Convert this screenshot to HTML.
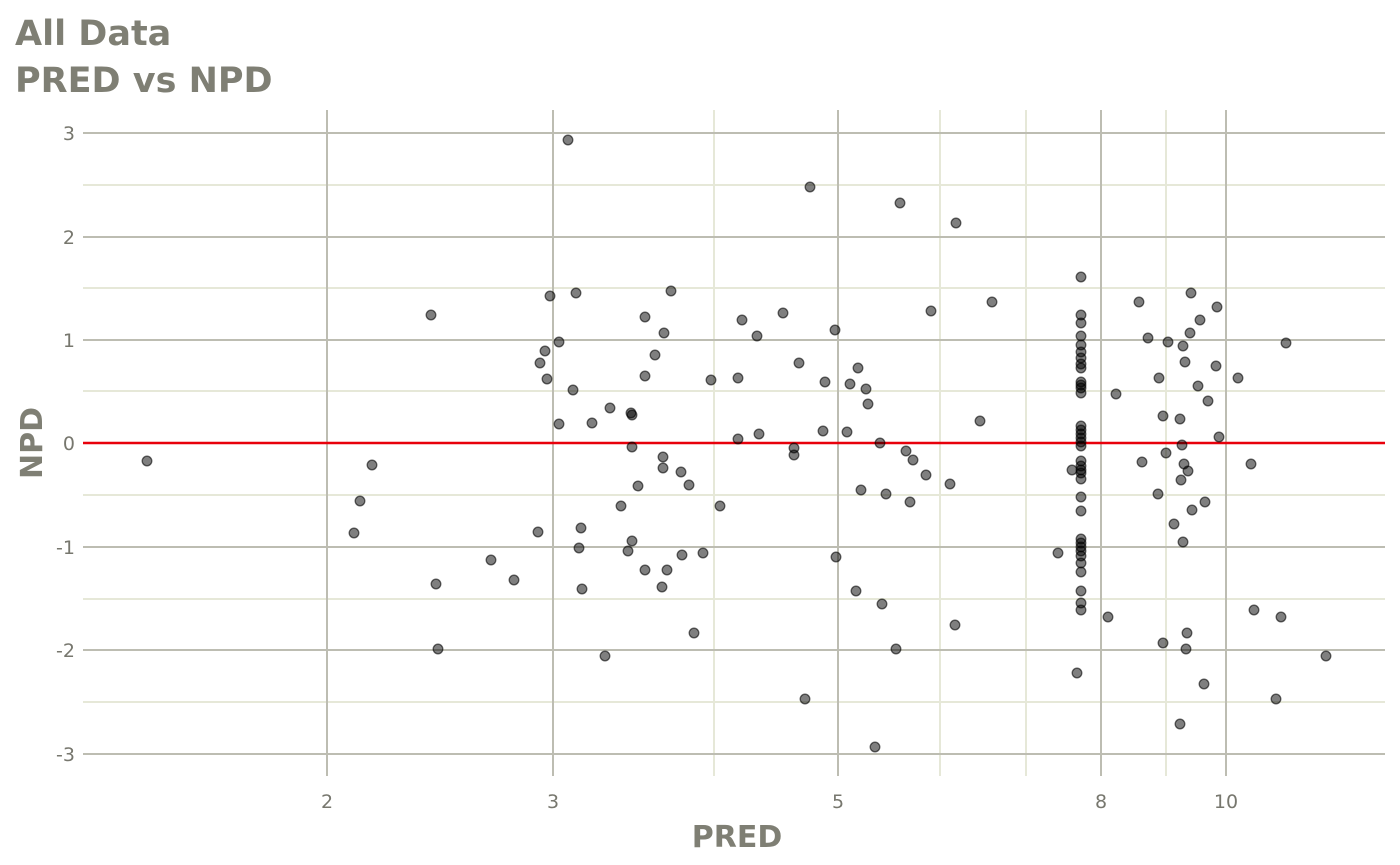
<!DOCTYPE html>
<html><head><meta charset="utf-8"><style>body{margin:0;background:#fff}svg{display:block}</style></head><body>
<svg width="1400" height="865" xmlns="http://www.w3.org/2000/svg" font-family="DejaVu Sans, Liberation Sans, sans-serif">
<rect width="1400" height="865" fill="#fff"/>
<text x="15" y="45" font-size="35" font-weight="bold" fill="#7f7f74">All Data</text>
<text x="15" y="92" font-size="35" font-weight="bold" fill="#7f7f74">PRED vs NPD</text>
<g stroke="#e6e8d8" stroke-width="2">
<line x1="83" x2="1385" y1="185" y2="185"/><line x1="83" x2="1385" y1="288" y2="288"/><line x1="83" x2="1385" y1="391" y2="391"/><line x1="83" x2="1385" y1="495" y2="495"/><line x1="83" x2="1385" y1="599" y2="599"/><line x1="83" x2="1385" y1="702" y2="702"/>
<line y1="110" y2="776" x1="714" x2="714"/><line y1="110" y2="776" x1="940" x2="940"/><line y1="110" y2="776" x1="1026" x2="1026"/><line y1="110" y2="776" x1="1166" x2="1166"/>
</g>
<g stroke="#bdbdb2" stroke-width="2">
<line x1="83" x2="1385" y1="133" y2="133"/><line x1="83" x2="1385" y1="237" y2="237"/><line x1="83" x2="1385" y1="340" y2="340"/><line x1="83" x2="1385" y1="547" y2="547"/><line x1="83" x2="1385" y1="650" y2="650"/><line x1="83" x2="1385" y1="754" y2="754"/>
<line y1="110" y2="776" x1="327" x2="327"/><line y1="110" y2="776" x1="553" x2="553"/><line y1="110" y2="776" x1="838" x2="838"/><line y1="110" y2="776" x1="1101" x2="1101"/><line y1="110" y2="776" x1="1226" x2="1226"/>
</g>
<g font-size="19" fill="#77776e" text-anchor="end">
<text x="75" y="140">3</text><text x="75" y="244">2</text><text x="75" y="347">1</text><text x="75" y="450">0</text><text x="75" y="554">-1</text><text x="75" y="657">-2</text><text x="75" y="761">-3</text>
</g>
<g font-size="19" fill="#77776e" text-anchor="middle">
<text x="327" y="808">2</text><text x="553" y="808">3</text><text x="838" y="808">5</text><text x="1101" y="808">8</text><text x="1226" y="808">10</text>
</g>
<text x="737" y="847" font-size="30" font-weight="bold" fill="#7f7f74" text-anchor="middle">PRED</text>
<text transform="translate(42,443) rotate(-90)" font-size="30" font-weight="bold" fill="#7f7f74" text-anchor="middle">NPD</text>
<line x1="83" x2="1385" y1="443" y2="443" stroke="#e8000b" stroke-width="2.5"/>
<g fill="#000" fill-opacity="0.5" stroke="#000" stroke-opacity="0.6" stroke-width="1.3">
<circle cx="147" cy="461" r="4.8"/><circle cx="354" cy="533" r="4.8"/><circle cx="360" cy="501" r="4.8"/><circle cx="372" cy="465" r="4.8"/><circle cx="431" cy="315" r="4.8"/><circle cx="436" cy="584" r="4.8"/><circle cx="438" cy="649" r="4.8"/><circle cx="491" cy="560" r="4.8"/><circle cx="514" cy="580" r="4.8"/><circle cx="538" cy="532" r="4.8"/><circle cx="540" cy="363" r="4.8"/><circle cx="545" cy="351" r="4.8"/><circle cx="547" cy="379" r="4.8"/><circle cx="550" cy="296" r="4.8"/><circle cx="559" cy="342" r="4.8"/><circle cx="559" cy="424" r="4.8"/><circle cx="568" cy="140" r="4.8"/><circle cx="573" cy="390" r="4.8"/><circle cx="576" cy="293" r="4.8"/><circle cx="579" cy="548" r="4.8"/><circle cx="581" cy="528" r="4.8"/><circle cx="582" cy="589" r="4.8"/><circle cx="592" cy="423" r="4.8"/><circle cx="605" cy="656" r="4.8"/><circle cx="610" cy="408" r="4.8"/><circle cx="621" cy="506" r="4.8"/><circle cx="628" cy="551" r="4.8"/><circle cx="631" cy="413" r="4.8"/><circle cx="632" cy="415" r="4.8"/><circle cx="632" cy="447" r="4.8"/><circle cx="632" cy="541" r="4.8"/><circle cx="638" cy="486" r="4.8"/><circle cx="645" cy="317" r="4.8"/><circle cx="645" cy="376" r="4.8"/><circle cx="645" cy="570" r="4.8"/><circle cx="655" cy="355" r="4.8"/><circle cx="662" cy="587" r="4.8"/><circle cx="663" cy="457" r="4.8"/><circle cx="663" cy="468" r="4.8"/><circle cx="664" cy="333" r="4.8"/><circle cx="667" cy="570" r="4.8"/><circle cx="671" cy="291" r="4.8"/><circle cx="681" cy="472" r="4.8"/><circle cx="682" cy="555" r="4.8"/><circle cx="689" cy="485" r="4.8"/><circle cx="694" cy="633" r="4.8"/><circle cx="703" cy="553" r="4.8"/><circle cx="711" cy="380" r="4.8"/><circle cx="720" cy="506" r="4.8"/><circle cx="738" cy="378" r="4.8"/><circle cx="738" cy="439" r="4.8"/><circle cx="742" cy="320" r="4.8"/><circle cx="757" cy="336" r="4.8"/><circle cx="759" cy="434" r="4.8"/><circle cx="783" cy="313" r="4.8"/><circle cx="794" cy="448" r="4.8"/><circle cx="794" cy="455" r="4.8"/><circle cx="799" cy="363" r="4.8"/><circle cx="805" cy="699" r="4.8"/><circle cx="810" cy="187" r="4.8"/><circle cx="823" cy="431" r="4.8"/><circle cx="825" cy="382" r="4.8"/><circle cx="835" cy="330" r="4.8"/><circle cx="836" cy="557" r="4.8"/><circle cx="847" cy="432" r="4.8"/><circle cx="850" cy="384" r="4.8"/><circle cx="856" cy="591" r="4.8"/><circle cx="858" cy="368" r="4.8"/><circle cx="861" cy="490" r="4.8"/><circle cx="866" cy="389" r="4.8"/><circle cx="868" cy="404" r="4.8"/><circle cx="875" cy="747" r="4.8"/><circle cx="880" cy="443" r="4.8"/><circle cx="882" cy="604" r="4.8"/><circle cx="886" cy="494" r="4.8"/><circle cx="896" cy="649" r="4.8"/><circle cx="900" cy="203" r="4.8"/><circle cx="906" cy="451" r="4.8"/><circle cx="910" cy="502" r="4.8"/><circle cx="913" cy="460" r="4.8"/><circle cx="926" cy="475" r="4.8"/><circle cx="931" cy="311" r="4.8"/><circle cx="950" cy="484" r="4.8"/><circle cx="955" cy="625" r="4.8"/><circle cx="956" cy="223" r="4.8"/><circle cx="980" cy="421" r="4.8"/><circle cx="992" cy="302" r="4.8"/><circle cx="1072" cy="470" r="4.8"/><circle cx="1077" cy="673" r="4.8"/><circle cx="1058" cy="553" r="4.8"/><circle cx="1108" cy="617" r="4.8"/><circle cx="1116" cy="394" r="4.8"/><circle cx="1139" cy="302" r="4.8"/><circle cx="1142" cy="462" r="4.8"/><circle cx="1148" cy="338" r="4.8"/><circle cx="1158" cy="494" r="4.8"/><circle cx="1159" cy="378" r="4.8"/><circle cx="1163" cy="416" r="4.8"/><circle cx="1163" cy="643" r="4.8"/><circle cx="1166" cy="453" r="4.8"/><circle cx="1168" cy="342" r="4.8"/><circle cx="1174" cy="524" r="4.8"/><circle cx="1180" cy="419" r="4.8"/><circle cx="1180" cy="724" r="4.8"/><circle cx="1181" cy="480" r="4.8"/><circle cx="1182" cy="445" r="4.8"/><circle cx="1183" cy="346" r="4.8"/><circle cx="1183" cy="542" r="4.8"/><circle cx="1184" cy="464" r="4.8"/><circle cx="1185" cy="362" r="4.8"/><circle cx="1186" cy="649" r="4.8"/><circle cx="1187" cy="633" r="4.8"/><circle cx="1188" cy="471" r="4.8"/><circle cx="1190" cy="333" r="4.8"/><circle cx="1191" cy="293" r="4.8"/><circle cx="1192" cy="510" r="4.8"/><circle cx="1198" cy="386" r="4.8"/><circle cx="1200" cy="320" r="4.8"/><circle cx="1204" cy="684" r="4.8"/><circle cx="1205" cy="502" r="4.8"/><circle cx="1208" cy="401" r="4.8"/><circle cx="1216" cy="366" r="4.8"/><circle cx="1217" cy="307" r="4.8"/><circle cx="1219" cy="437" r="4.8"/><circle cx="1238" cy="378" r="4.8"/><circle cx="1251" cy="464" r="4.8"/><circle cx="1254" cy="610" r="4.8"/><circle cx="1276" cy="699" r="4.8"/><circle cx="1281" cy="617" r="4.8"/><circle cx="1286" cy="343" r="4.8"/><circle cx="1326" cy="656" r="4.8"/>
<circle cx="1081" cy="277" r="4.8"/><circle cx="1081" cy="315" r="4.8"/><circle cx="1081" cy="323" r="4.8"/><circle cx="1081" cy="336" r="4.8"/><circle cx="1081" cy="345" r="4.8"/><circle cx="1081" cy="352" r="4.8"/><circle cx="1081" cy="358" r="4.8"/><circle cx="1081" cy="364" r="4.8"/><circle cx="1081" cy="368" r="4.8"/><circle cx="1081" cy="382" r="4.8"/><circle cx="1081" cy="385" r="4.8"/><circle cx="1081" cy="388" r="4.8"/><circle cx="1081" cy="393" r="4.8"/><circle cx="1081" cy="426" r="4.8"/><circle cx="1081" cy="430" r="4.8"/><circle cx="1081" cy="434" r="4.8"/><circle cx="1081" cy="438" r="4.8"/><circle cx="1081" cy="442" r="4.8"/><circle cx="1081" cy="446" r="4.8"/><circle cx="1081" cy="461" r="4.8"/><circle cx="1081" cy="466" r="4.8"/><circle cx="1081" cy="470" r="4.8"/><circle cx="1081" cy="473" r="4.8"/><circle cx="1081" cy="479" r="4.8"/><circle cx="1081" cy="497" r="4.8"/><circle cx="1081" cy="511" r="4.8"/><circle cx="1081" cy="539" r="4.8"/><circle cx="1081" cy="543" r="4.8"/><circle cx="1081" cy="547" r="4.8"/><circle cx="1081" cy="551" r="4.8"/><circle cx="1081" cy="556" r="4.8"/><circle cx="1081" cy="563" r="4.8"/><circle cx="1081" cy="572" r="4.8"/><circle cx="1081" cy="591" r="4.8"/><circle cx="1081" cy="603" r="4.8"/><circle cx="1081" cy="610" r="4.8"/>
</g>
</svg>
</body></html>
